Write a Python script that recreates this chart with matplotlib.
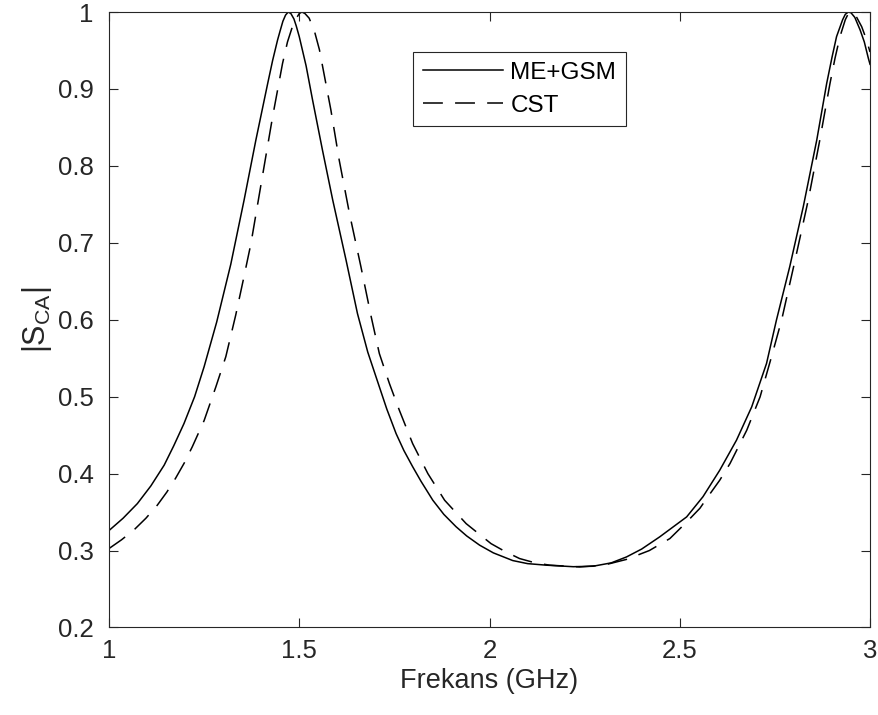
import matplotlib
matplotlib.use("Agg")
import matplotlib.pyplot as plt

# values
freq_me = [1.0, 1.037, 1.0745, 1.11, 1.145, 1.17, 1.197, 1.225, 1.25, 1.283,
           1.32, 1.355, 1.386, 1.417, 1.43, 1.443, 1.45, 1.457, 1.464, 1.471,
           1.478, 1.486, 1.492, 1.5, 1.518, 1.535, 1.561, 1.588, 1.623, 1.653,
           1.68, 1.7105, 1.73, 1.7545, 1.775, 1.798, 1.82, 1.851, 1.88, 1.912,
           1.94, 1.974, 2.01, 2.061, 2.10, 2.149, 2.22, 2.272, 2.32, 2.36,
           2.40, 2.447, 2.518, 2.561, 2.605, 2.649, 2.689, 2.728, 2.754, 2.789,
           2.8245, 2.86, 2.886, 2.90, 2.912, 2.928, 2.935, 2.943, 2.95, 2.96,
           2.974, 2.985, 2.9955, 3.0]
s_me = [0.326, 0.342, 0.361, 0.384, 0.411, 0.436, 0.465, 0.50, 0.539, 0.597,
        0.672, 0.7555, 0.8336, 0.907, 0.937, 0.9636, 0.976, 0.988, 0.996, 1.0,
        0.998, 0.991, 0.982, 0.968, 0.93, 0.8856, 0.8205, 0.7555, 0.6775, 0.608,
        0.558, 0.5128, 0.484, 0.452, 0.43, 0.409, 0.39, 0.3654, 0.347, 0.331,
        0.319, 0.307, 0.297, 0.287, 0.283, 0.281, 0.279, 0.2796, 0.284, 0.2917,
        0.302, 0.3177, 0.3437, 0.37, 0.4044, 0.4434, 0.4867, 0.5432, 0.5995, 0.669,
        0.7468, 0.8336, 0.907, 0.941, 0.968, 0.99, 0.997, 1.0, 0.999, 0.993,
        0.9766, 0.961, 0.94, 0.932]

freq_cst = [1.0, 1.033, 1.066, 1.097, 1.127, 1.152, 1.175, 1.198, 1.219, 1.25,
            1.281, 1.307, 1.333, 1.353, 1.373, 1.403, 1.43, 1.456, 1.469, 1.482,
            1.49, 1.50, 1.507, 1.515, 1.526, 1.54, 1.553, 1.583, 1.605, 1.632,
            1.662, 1.689, 1.7105, 1.737, 1.763, 1.798, 1.838, 1.882, 1.9386, 2.004,
            2.04, 2.079, 2.12, 2.158, 2.237, 2.30, 2.36, 2.42, 2.474, 2.518,
            2.553, 2.574, 2.605, 2.632, 2.676, 2.711, 2.741, 2.7676, 2.803, 2.8376,
            2.868, 2.8947, 2.908, 2.921, 2.935, 2.942, 2.949, 2.957, 2.965, 2.978,
            2.99, 3.0]
s_cst = [0.3026, 0.314, 0.327, 0.342, 0.359, 0.376, 0.394, 0.414, 0.435, 0.469,
         0.513, 0.552, 0.606, 0.652, 0.699, 0.786, 0.864, 0.933, 0.961, 0.981,
         0.99, 0.998, 1.0, 0.998, 0.992, 0.975, 0.951, 0.873, 0.8075, 0.738,
         0.669, 0.604, 0.556, 0.517, 0.4824, 0.439, 0.400, 0.3654, 0.335, 0.309,
         0.299, 0.2896, 0.284, 0.281, 0.2787, 0.281, 0.2885, 0.300, 0.3156, 0.337,
         0.355, 0.370, 0.3914, 0.4131, 0.4564, 0.4997, 0.5518, 0.5995, 0.6775, 0.7555,
         0.8336, 0.907, 0.94, 0.968, 0.99, 0.997, 1.0, 0.998, 0.993, 0.981,
         0.965, 0.948]

x_ticks = [1, 1.5, 2, 2.5, 3]
x_labels = ["1", "1.5", "2", "2.5", "3"]
y_ticks = [0.2, 0.3, 0.4, 0.5, 0.6, 0.7, 0.8, 0.9, 1]
y_labels = ["0.2", "0.3", "0.4", "0.5", "0.6", "0.7", "0.8", "0.9", "1"]

plt.rcParams["font.family"] = ["Liberation Sans", "DejaVu Sans"]
plt.rcParams["mathtext.default"] = "regular"

axis_grey = "#262626"

fig = plt.figure(figsize=(8.79, 7.15), dpi=100)
ax = fig.add_axes([0.124, 0.1224, 0.8658, 0.8608])

ax.plot(freq_me, s_me, color="black", lw=1.1, label="ME+GSM")
ax.plot(freq_cst, s_cst, color="black", lw=1.1, linestyle=(0, (13, 8)), label="CST")

ax.set_xlim(1, 3)
ax.set_ylim(0.2, 1)
ax.set_xticks(x_ticks)
ax.set_xticklabels(x_labels)
ax.set_yticks(y_ticks)
ax.set_yticklabels(y_labels)

ax.tick_params(direction="in", length=6.2, width=0.8, colors=axis_grey,
               labelsize=18.5, top=True, right=True)
ax.tick_params(axis="x", pad=8)
ax.tick_params(axis="y", pad=11)
for sp in ax.spines.values():
    sp.set_color(axis_grey)
    sp.set_linewidth(0.8)

ax.set_xlabel("Frekans (GHz)", fontsize=19.5, color=axis_grey, labelpad=4)
ax.set_ylabel("|S$_{CA}$|", fontsize=22, color=axis_grey, labelpad=3)

leg = ax.legend(loc="upper left", bbox_to_anchor=(0.3995, 0.935), borderaxespad=0,
                fontsize=17.5, handlelength=3.3, handletextpad=0.3,
                borderpad=0.4, labelspacing=0.45, fancybox=False,
                framealpha=1, edgecolor=axis_grey)
leg.get_frame().set_linewidth(0.8)

fig.savefig("out.png", dpi=100)
